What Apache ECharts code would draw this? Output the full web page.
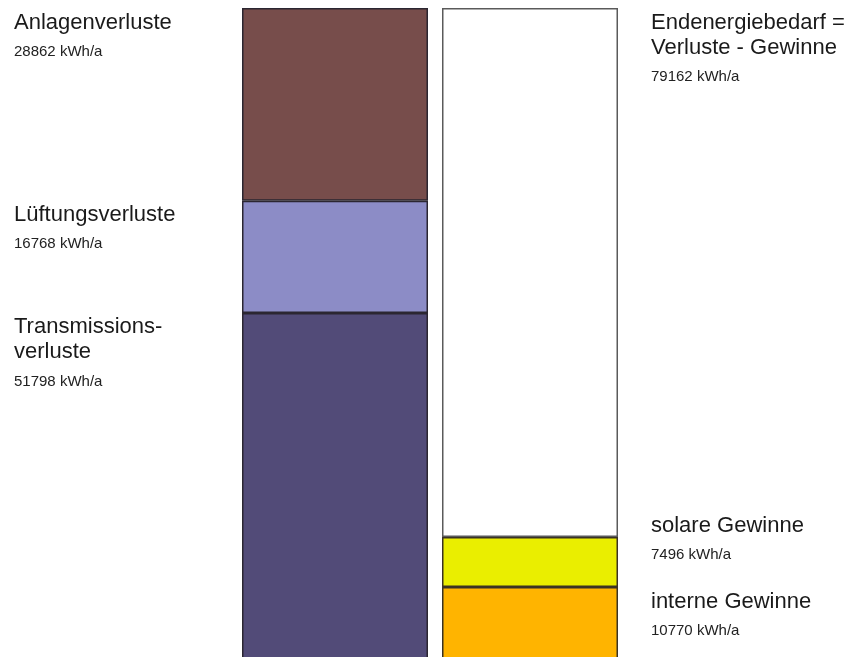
<!DOCTYPE html>
<html>
<head>
<meta charset="utf-8">
<script src="https://cdn.jsdelivr.net/npm/echarts@6/dist/echarts.min.js"></script>
<style>
  html, body { margin: 0; padding: 0; background: #ffffff; }
  #chart { width: 861px; height: 657px; }
</style>
</head>
<body>
<div id="chart"></div>
<script>
// Energy balance: losses (left column) vs. gains + final energy demand (right column)
const unit = 'kWh/a';

// Losses, stacked bottom to top
const lossLabels = ['Transmissions-\nverluste', 'Lüftungsverluste', 'Anlagenverluste'];
const lossValues = [51798, 16768, 28862];
const lossColors = ['#524b78', '#8c8cc6', '#774d4b'];

// Gains and final energy demand, stacked bottom to top
const gainLabels = ['interne Gewinne', 'solare Gewinne', 'Endenergiebedarf =\nVerluste - Gewinne'];
const gainValues = [10770, 7496, 79162];
const gainColors = ['#ffb400', '#eaee00', '#ffffff'];

const total = lossValues.reduce((a, b) => a + b, 0);

const fontFamily = '"Liberation Sans", Arial, Helvetica, sans-serif';

function labelFor(title, value, dx, dy) {
  return {
    show: true,
    position: [dx, dy],
    align: 'left',
    verticalAlign: 'top',
    formatter: '{t|' + title.split('\n').join('}\n{t|') + '}\n{v|' + value + ' ' + unit + '}',
    rich: {
      t: { fontFamily, fontSize: 22, lineHeight: 25, color: '#1a1a1a' },
      v: { fontFamily, fontSize: 15, lineHeight: 33, color: '#222222' }
    }
  };
}

const series = [];

lossValues.forEach((v, i) => {
  series.push({
    type: 'bar',
    name: lossLabels[i].replace('-\n', ''),
    stack: 'losses',
    xAxisIndex: 0,
    yAxisIndex: 0,
    barWidth: '100%',
    clip: false,
    data: [v],
    itemStyle: { color: lossColors[i], borderColor: '#2b2631', borderWidth: 1.5 },
    label: labelFor(lossLabels[i], v, -228, 2)
  });
});

gainValues.forEach((v, i) => {
  // the solar label sits above its segment to leave room for the one below
  const dy = i === 1 ? -24 : 2;
  series.push({
    type: 'bar',
    name: gainLabels[i].replace('\n', ' '),
    stack: 'gains',
    xAxisIndex: 1,
    yAxisIndex: 1,
    barWidth: '100%',
    clip: false,
    data: [v],
    itemStyle: {
      color: gainColors[i],
      borderColor: i === 2 ? '#5a5a5a' : '#3a3224',
      borderWidth: 1.5
    },
    label: labelFor(gainLabels[i], v, 209, dy)
  });
});

const chart = echarts.init(document.getElementById('chart'), null, { renderer: 'canvas' });
chart.setOption({
  animation: false,
  backgroundColor: '#ffffff',
  grid: [
    { left: 242, width: 186, top: 8, height: 651, outerBoundsMode: 'none', containLabel: false },
    { left: 442, width: 176, top: 8, height: 651, outerBoundsMode: 'none', containLabel: false }
  ],
  xAxis: [
    { type: 'category', gridIndex: 0, data: ['Verluste'], show: false },
    { type: 'category', gridIndex: 1, data: ['Gewinne'], show: false }
  ],
  yAxis: [
    { type: 'value', gridIndex: 0, min: 0, max: total, show: false },
    { type: 'value', gridIndex: 1, min: 0, max: total, show: false }
  ],
  series
});
</script>
</body>
</html>
